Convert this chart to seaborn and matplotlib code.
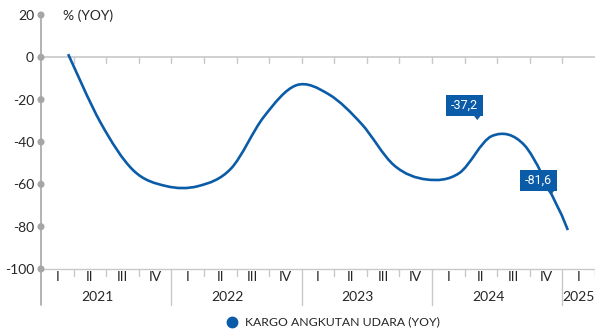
import numpy as np
import matplotlib
matplotlib.use("Agg")
import matplotlib.pyplot as plt
import seaborn as sns
from matplotlib.path import Path
from matplotlib.patches import PathPatch, Rectangle, Polygon
from matplotlib.lines import Line2D

# ---------------- data ----------------
months = ["2021-03", "2021-06", "2021-09", "2021-12",
          "2022-03", "2022-06", "2022-09", "2022-12",
          "2023-03", "2023-06", "2023-09", "2023-12",
          "2024-03", "2024-06", "2024-09", "2024-12",
          "2025-01"]
values = [1.5, -31.0, -53.4, -60.8,
          -60.8, -52.5, -28.2, -13.2,
          -17.5, -31.4, -51.0, -57.7,
          -54.7, -37.2, -41.5, -70.0,
          -81.6]
years = ["2021", "2022", "2023", "2024", "2025"]
quarters = ["I", "II", "III", "IV"]
y_ticks = [20, 0, -20, -40, -60, -80, -100]
labelled_months = ["2024-06", "2025-01"]
labelled_text = ["-37,2", "-81,6"]
series_name = "KARGO ANGKUTAN UDARA (YOY)"
unit_label = "% (YOY)"

# ---------------- style ----------------
sns.set_style("white")
plt.rcParams["font.family"] = ["Lato", "DejaVu Sans"]
BLUE = "#0b5ca8"
GRID = "#a6a6a6"
TXT = "#262626"

W, H = 595, 335
fig = plt.figure(figsize=(W / 100, H / 100), dpi=100)
ax_left, ax_right, ax_top, ax_bot = 41, 595, 15, 269
ax = fig.add_axes([ax_left / W, 1 - ax_bot / H, (ax_right - ax_left) / W, (ax_bot - ax_top) / H])

n_slots = 4 * (len(years) - 1) + 1
ax.set_xlim(0, n_slots)
ax.set_ylim(-100, 20)

def month_pos(s):
    y, m = s.split("-")
    idx = (int(y) - int(years[0])) * 12 + int(m) - 1
    return (idx + 0.5) / 3.0

xs = np.array([month_pos(m) for m in months])
ys = np.array(values, dtype=float)

# smoothed line (cubic Bezier through the data points, like a spreadsheet "smooth line")
pts = np.column_stack([xs, ys])
verts = [pts[0]]
codes = [Path.MOVETO]
n = len(pts)
for i in range(n - 1):
    p0 = pts[i - 1] if i > 0 else pts[i]
    p1 = pts[i]
    p2 = pts[i + 1]
    p3 = pts[i + 2] if i + 2 < n else pts[i + 1]
    c1 = p1 + (p2 - p0) / 6.0
    c2 = p2 - (p3 - p1) / 6.0
    verts += [c1, c2, p2]
    codes += [Path.CURVE4] * 3
ax.add_patch(PathPatch(Path(verts, codes), facecolor="none", edgecolor=BLUE,
                       lw=1.9, capstyle="butt", joinstyle="round", zorder=4))

# axes styling
for s in ["top", "right"]:
    ax.spines[s].set_visible(False)
ax.spines["left"].set_color(GRID)
ax.spines["left"].set_linewidth(1.2)
ax.spines["bottom"].set_color("#c8c8c8")
ax.spines["bottom"].set_linewidth(1.0)
ax.set_yticks(y_ticks)
ax.set_yticklabels([str(v) for v in y_ticks], fontsize=10, color=TXT)
ax.tick_params(axis="y", length=0, pad=5)
ax.set_xticks([])
ax.grid(False)

# y tick dots
sns.scatterplot(x=[0] * len(y_ticks), y=y_ticks, ax=ax, color=GRID, s=26,
                edgecolor="none", clip_on=False, zorder=6, legend=False)

# zero line with small tick marks
ax.axhline(0, color="#c8c8c8", lw=1.2, zorder=2)
px_per_unit_y = (ax_bot - ax_top) / 120.0
tick_len = 6 / px_per_unit_y
for i in range(1, n_slots):
    ax.plot([i, i], [0, -tick_len], color="#c8c8c8", lw=1.0, zorder=2)

# category axis (quarters + years) below the plot
bt = ax.get_xaxis_transform()
ax_h = ax_bot - ax_top
ax.plot([0, 0], [0, -36 / ax_h], transform=bt, color=GRID, lw=1.2, clip_on=False)
for i in range(1, n_slots + 1):
    if i % 4 == 0:
        ax.plot([i, i], [0, -36 / ax_h], transform=bt, color="#c8c8c8", lw=1.0, clip_on=False)
    else:
        ax.plot([i, i], [0, -7 / ax_h], transform=bt, color="#c8c8c8", lw=1.0, clip_on=False)
for i in range(n_slots):
    ax.text(i + 0.5, -8 / ax_h, quarters[i % 4], transform=bt, ha="center", va="center",
            fontsize=10, color=TXT)
for k, yr in enumerate(years):
    c = k * 4 + (1.72 if k < len(years) - 1 else 0.5)
    ax.text(c, -28 / ax_h, yr, transform=bt, ha="center", va="center", fontsize=10, color=TXT)

# unit label
fig.text(63 / W, 1 - 16 / H, unit_label, ha="left", va="center", fontsize=10, color=TXT)

# data labels (boxes with pointer)
fig.canvas.draw()
offsets = [(-14.5, 16), (-17, 35)]
for mth, txt, (dx, dy) in zip(labelled_months, labelled_text, offsets):
    xd = month_pos(mth)
    yd = values[months.index(mth)]
    px, py = ax.transData.transform((xd, yd))
    apx, apy = px + dx, py + dy  # pointer apex (display coords, y up)
    bw, bh = 37, 21
    box_right = apx + 6
    box_left = box_right - bw
    box_bot = apy + 4
    fig.patches.append(Rectangle((box_left, box_bot), bw, bh, transform=None,
                                 facecolor=BLUE, edgecolor="none", zorder=7))
    fig.patches.append(Polygon([(apx - 3.5, box_bot + 0.5), (apx + 3.5, box_bot + 0.5), (apx, apy)],
                               closed=True, transform=None, facecolor=BLUE,
                               edgecolor="none", zorder=7))
    fig.text((box_left + bw / 2) / W, (box_bot + bh / 2) / H, txt, ha="center", va="center",
             fontsize=9, color="white", family=["Roboto", "DejaVu Sans"], zorder=8)

# legend
fig.add_artist(Line2D([232 / W], [1 - 322 / H], marker="o", markersize=7.5,
                      color=BLUE, linestyle="none", transform=fig.transFigure))
fig.text(245 / W, 1 - 322 / H, series_name, ha="left", va="center", fontsize=8.8, color=TXT)

fig.savefig("out.png", dpi=100)
